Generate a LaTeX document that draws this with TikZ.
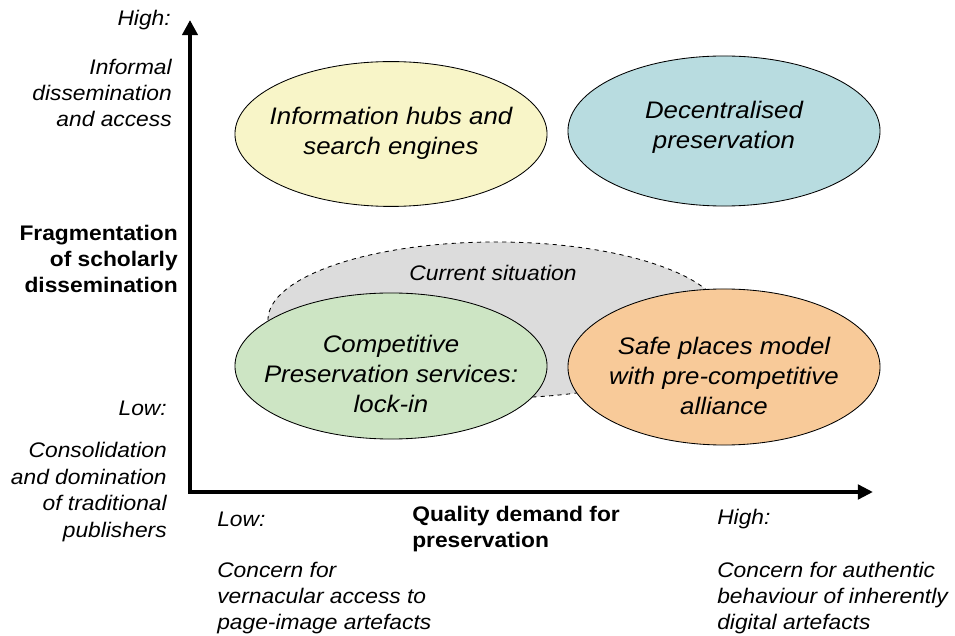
\documentclass[tikz,border=0pt]{standalone}
\usepackage{fontspec}
\setmainfont{Liberation Sans}[FakeStretch=1.08]
\usetikzlibrary{shapes.geometric,arrows.meta}

\definecolor{hubyellow}{HTML}{F8F5C8}
\definecolor{decblue}{HTML}{B8DCE0}
\definecolor{compgreen}{HTML}{CDE5C4}
\definecolor{safeorange}{HTML}{F8CA99}
\definecolor{currentgrey}{HTML}{DCDCDC}

\tikzset{
  bubble/.style={ellipse, draw=black, line width=0.6pt, inner sep=0pt, minimum width=7.8cm},
  bubbletext/.style={align=center, inner sep=0pt, font=\fontsize{17}{21.3}\selectfont\itshape},
  axislabel/.style={inner sep=0pt, font=\fontsize{15}{18.8}\selectfont\itshape},
  axistitle/.style={inner sep=0pt, font=\fontsize{15}{18.8}\selectfont\bfseries},
  axisline/.style={line width=3.5pt, line join=miter,
    {Triangle[length=0.38cm,width=0.38cm]}-{Triangle[length=0.38cm,width=0.36cm]}}
}

\begin{document}
\begin{tikzpicture}[x=0.025cm,y=-0.025cm]
	\useasboundingbox (0,0) rectangle (955,636);

	% current situation (behind)
	\node[ellipse, draw=black, dashed, line width=0.6pt, fill=currentgrey,
		minimum width=11.4cm, minimum height=3.9cm] (current) at (496,320) {};
	\node[axislabel] (currenttext) at (493,273) {Current situation};

	% ellipses
	\node[bubble, fill=hubyellow, minimum height=3.62cm] (hubs) at (391,134) {};
	\node[bubble, fill=decblue, minimum height=3.75cm] (decentral) at (724,131) {};
	\node[bubble, fill=compgreen, minimum height=3.65cm] (competitive) at (391,366) {};
	\node[bubble, fill=safeorange, minimum height=3.9cm] (safeplaces) at (724,367) {};
	% ellipse texts
	\node[bubbletext] (hubstext) at (391,133) {Information hubs and\\search engines};
	\node[bubbletext] (decentraltext) at (724,127) {Decentralised\\preservation};
	\node[bubbletext] (competitivetext) at (391,374) {Competitive\\Preservation services:\\lock-in};
	\node[bubbletext] (safeplacestext) at (724,376) {Safe places model\\with pre-competitive\\alliance};

	% axes
	\coordinate (origin) at (190,492);
	\coordinate (ytip) at (190,20);
	\coordinate (xtip) at (873,492);
	\draw[axisline] (ytip) -- (origin) -- (xtip);

	% vertical axis labels
	\node[axislabel, anchor=east] (yhigh) at (171,20) {High:};
	\node[axislabel, anchor=east, align=right] (yhighdesc) at (172,93) {Informal\\dissemination\\and access};
	\node[axistitle, anchor=east, align=right] (ytitle) at (178,259) {Fragmentation\\of scholarly\\dissemination};
	\node[axislabel, anchor=east] (ylow) at (167,408) {Low:};
	\node[axislabel, anchor=east, align=right] (ylowdesc) at (167,492) {Consolidation\\and domination\\of traditional\\publishers};

	% horizontal axis labels
	\node[axislabel, anchor=west] (xlow) at (217,519) {Low:};
	\node[axistitle, anchor=west, align=left] (xtitle) at (412,529) {Quality demand for\\preservation};
	\node[axislabel, anchor=west] (xhigh) at (717,519) {High:};
	\node[axislabel, anchor=west, align=left] (xlowdesc) at (217,598) {Concern for\\vernacular access to\\page-image artefacts};
	\node[axislabel, anchor=west, align=left] (xhighdesc) at (717,598) {Concern for authentic\\behaviour of inherently\\digital artefacts};
\end{tikzpicture}
\end{document}
